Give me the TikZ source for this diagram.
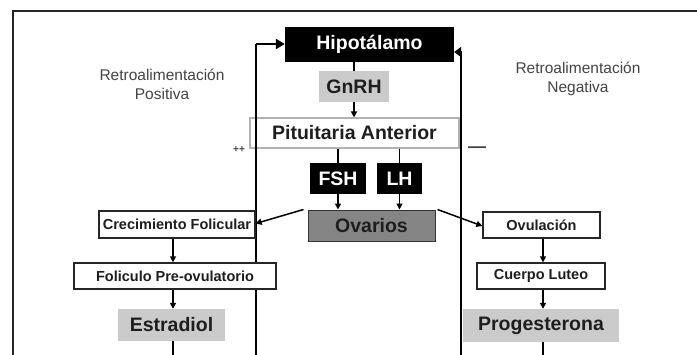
\documentclass[tikz,border=0pt]{standalone}
\usepackage{fontspec}
\setmainfont{Liberation Sans}
\usetikzlibrary{arrows.meta}
\definecolor{lgray}{HTML}{CBCBCB}
\definecolor{dgray}{HTML}{858585}
\definecolor{txt}{HTML}{1E1E1E}
\definecolor{soft}{HTML}{444444}
\begin{document}
\begin{tikzpicture}[x=1pt,y=-1pt,
  big/.style={font=\fontsize{19.5}{20}\selectfont\bfseries, inner sep=0pt, anchor=center},
  small/.style={font=\fontsize{14.5}{15}\selectfont\bfseries, inner sep=0pt, anchor=center, text=txt},
  blackbox/.style={big, fill=black, text=white},
  graybox/.style={big, fill=lgray, text=txt},
  whitebox/.style={small, draw=black!85, line width=1.3pt, fill=white},
  conn/.style={line width=1.5pt, draw=black},
  arr/.style={conn, -{Triangle[length=6pt,width=6pt]}},
  fb/.style={line width=2.8pt, draw=black},
  note/.style={font=\fontsize{15.5}{19}\selectfont, text=soft, align=center, inner sep=0pt}
]
\useasboundingbox (0,0) rectangle (697,354);
\fill[white] (0,0) rectangle (697,354);
% frame
\draw[line width=2pt, black!85] (13,360) -- (13,11) -- (705,11);

% Pituitaria (drawn first so feedback line crosses over)
\node[big, draw=black!30, line width=1.2pt, text=txt, minimum width=209pt, minimum height=30pt] (pit) at (354.5,133) {Pituitaria Anterior};

% nodes
\node[blackbox, minimum width=169pt, minimum height=35pt] (hipo) at (369.5,44.5) {Hipotálamo};
\node[graybox, minimum width=70pt, minimum height=31pt] (gnrh) at (354,86.5) {GnRH};
\node[blackbox, minimum width=56pt, minimum height=31pt] (fsh) at (338,178.5) {FSH};
\node[blackbox, minimum width=45pt, minimum height=31pt] (lh) at (399.5,178.5) {LH};
\node[big, fill=dgray, draw=black!80, line width=1pt, text=txt, minimum width=127pt, minimum height=31pt] (ova) at (371.5,225.5) {Ovarios};

% feedback coordinates
\coordinate (lbot) at (173,356.3);
\coordinate (lcor) at (256,356.3);
\coordinate (ltop) at (256,44);
\coordinate (rbot) at (543,356.3);
\coordinate (rcor) at (461,356.3);
\coordinate (rtop) at (461,52);

% feedback loops
\draw[fb] (lbot) -- (lcor) -- (ltop);
\draw[fb, -{Triangle[length=9pt,width=10pt]}] (ltop) -- (ltop -| hipo.west);
\draw[fb] (rbot) -- (rcor) -- (rtop);
\draw[fb, -{Triangle[length=7pt,width=10pt]}] (rtop) -- (rtop -| hipo.east);

% left chain
\node[whitebox, minimum width=156pt, minimum height=27pt] (crec) at (177,224.5) {Crecimiento Folicular};
\node[whitebox, minimum width=202pt, minimum height=26pt] (fol) at (175,276) {Foliculo Pre-ovulatorio};
\node[graybox, minimum width=107pt, minimum height=32pt] (estr) at (171.5,325) {Estradiol};

% right chain
\node[whitebox, minimum width=117pt, minimum height=26pt] (ovul) at (541.5,225) {Ovulación};
\node[whitebox, minimum width=128pt, minimum height=26pt] (cuer) at (541,276) {Cuerpo Luteo};
\node[graybox, minimum width=156pt, minimum height=33pt] (prog) at (541,325.5) {Progesterona};

% connectors
\draw[conn] (hipo.south -| gnrh) -- (gnrh.north);
\draw[arr] (gnrh.south) -- (pit.north -| gnrh);
\draw[conn] (pit.south -| fsh) -- (fsh.north);
\draw[conn] (pit.south -| lh) -- (lh.north);
\draw[arr] (fsh.south) -- (ova.north -| fsh);
\draw[arr] (lh.south) -- (ova.north -| lh);
\draw[arr] ([xshift=-4pt]ova.north west) -- ([yshift=1pt]crec.east);
\draw[arr] ([xshift=2pt]ova.north east) -- ([yshift=-1pt]ovul.west);
\draw[arr] (crec.south -| lbot) -- (fol.north -| lbot);
\draw[arr] (fol.south -| lbot) -- (estr.north -| lbot);
\draw[arr] (ovul.south -| rbot) -- (cuer.north -| rbot);
\draw[arr] (cuer.south -| rbot) -- (prog.north -| rbot);
\draw[conn, line width=2.2pt] (estr.south -| lbot) -- (lbot);
\draw[conn, line width=2.2pt] (prog.south -| rbot) -- (rbot);

% notes
\node[note] (pos) at (162,84) {Retroalimentación\\Positiva};
\node[note] (neg) at (578,79) {Retroalimentación\\Negativa};
\node[font=\fontsize{10}{10}\selectfont\bfseries, text=soft, inner sep=0pt] (plus) at (239,150) {++};
\node[font=\fontsize{18}{18}\selectfont\bfseries, text=soft, inner sep=0pt] (minus) at (477,150) {—};
\end{tikzpicture}
\end{document}
